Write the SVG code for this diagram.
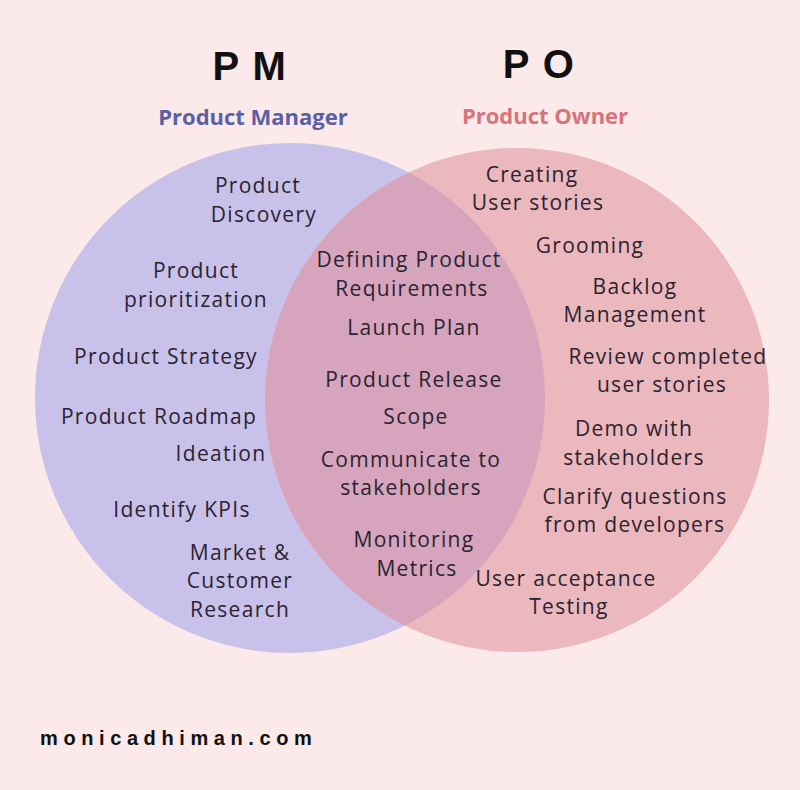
<svg xmlns="http://www.w3.org/2000/svg" width="800" height="790" viewBox="0 0 800 790">
<style>
.t{font-family:"Open Sans","Noto Sans",sans-serif;font-size:21px;fill:#2b2230;text-anchor:middle;letter-spacing:1.3px}
.h{font-family:"Liberation Sans",Arial,sans-serif;font-weight:bold;font-size:40px;fill:#111;text-anchor:middle;letter-spacing:1.5px}
.s{font-family:"Open Sans","Noto Sans",sans-serif;font-weight:bold;font-size:22px;text-anchor:middle}
</style>
<defs>
<clipPath id="cl"><circle cx="290" cy="398" r="255"/></clipPath>
</defs>
<rect width="800" height="790" fill="#fce9e9"/>
<g id="pm-circle"><circle cx="290" cy="398" r="255" fill="#c8c2eb"/></g>
<g id="po-circle"><circle cx="517" cy="400" r="252" fill="#ebb8bd"/></g>
<g id="overlap"><circle cx="517" cy="400" r="252" fill="#d6a5bd" clip-path="url(#cl)"/></g>
<g id="titles">
<text class="h" x="250" y="80">P M</text>
<text class="h" x="539" y="78">P O</text>
<text class="s" x="253" y="125" fill="#5a5fa8">Product Manager</text>
<text class="s" x="545" y="124" fill="#d8737b">Product Owner</text>
</g>
<g id="pm-items">
<text class="t" x="258" y="193">Product</text>
<text class="t" x="264" y="222">Discovery</text>
<text class="t" x="196" y="278">Product</text>
<text class="t" x="196" y="307">prioritization</text>
<text class="t" x="166" y="364">Product Strategy</text>
<text class="t" x="159" y="424">Product Roadmap</text>
<text class="t" x="221" y="461">Ideation</text>
<text class="t" x="182" y="517">Identify KPIs</text>
<text class="t" x="240" y="560">Market &amp;</text>
<text class="t" x="240" y="588">Customer</text>
<text class="t" x="240" y="617">Research</text>
</g>
<g id="shared-items">
<text class="t" x="409" y="267">Defining Product</text>
<text class="t" x="412" y="296">Requirements</text>
<text class="t" x="414" y="335">Launch Plan</text>
<text class="t" x="414" y="387">Product Release</text>
<text class="t" x="416" y="424">Scope</text>
<text class="t" x="411" y="467">Communicate to</text>
<text class="t" x="411" y="495">stakeholders</text>
<text class="t" x="414" y="547">Monitoring</text>
<text class="t" x="417" y="576">Metrics</text>
</g>
<g id="po-items">
<text class="t" x="532" y="182">Creating</text>
<text class="t" x="538" y="210">User stories</text>
<text class="t" x="590" y="253">Grooming</text>
<text class="t" x="635" y="294">Backlog</text>
<text class="t" x="635" y="322">Management</text>
<text class="t" x="668" y="364">Review completed</text>
<text class="t" x="662" y="392">user stories</text>
<text class="t" x="634" y="436">Demo with</text>
<text class="t" x="634" y="465">stakeholders</text>
<text class="t" x="635" y="504">Clarify questions</text>
<text class="t" x="635" y="532">from developers</text>
<text class="t" x="566" y="586">User acceptance</text>
<text class="t" x="569" y="614">Testing</text>
</g>
<g id="footer">
<text x="40" y="745" font-family="Liberation Sans,Arial,sans-serif" font-weight="bold" font-size="20" letter-spacing="5.6" fill="#111">monicadhiman.com</text>
</g>
</svg>
